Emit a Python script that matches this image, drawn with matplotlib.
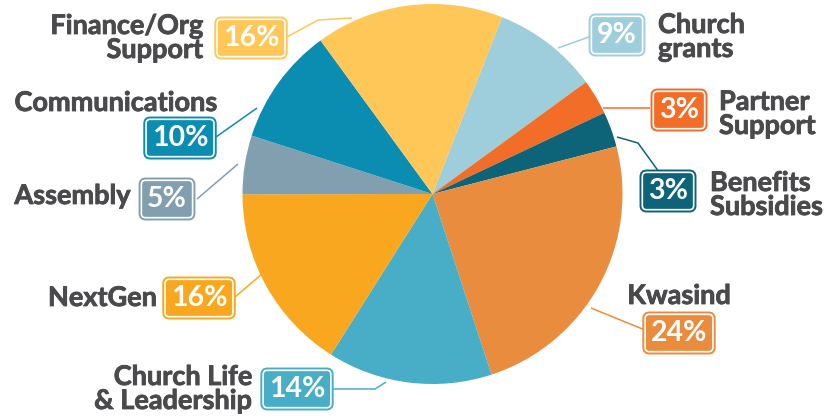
import numpy as np
import matplotlib
matplotlib.use("Agg")
import matplotlib.pyplot as plt
import matplotlib.patheffects as pe

plt.rcParams['font.family'] = ['Lato', 'DejaVu Sans']

# data
labels = ['Church\ngrants', 'Partner\nSupport', 'Benefits\nSubsidies', 'Kwasind',
          'Church Life\n& Leadership', 'NextGen', 'Assembly', 'Communications',
          'Finance/Org\nSupport']
shares = [9, 3, 3, 24, 14, 16, 5, 10, 16]
colors = ['#9ECDDB', '#F26D28', '#0D6479', '#EA8C3E', '#48ADC6',
          '#F9A71E', '#829FB0', '#0A8DB1', '#FEC758']

# layout (pixel coords, y measured from top)
W, H = 837, 417
center = (432.5, 194)
radius = 190
text_color = '#4A4A4C'

# (label x, label y, ha, box x, box y, leader path)
layout = [
    (658, 37, 'left', 617, 35, [(589, 37), (558, 48)]),
    (719, 114, 'left', 679, 110, [(650, 108), (603, 108)]),
    (710, 195, 'left', 668, 191, [(659, 172), (638, 143), (617, 137)]),
    (679, 296, 'center', 679, 333, [(645, 330), (591, 308)]),
    (252, 389, 'right', 297, 389, [(332, 389), (375, 389), (386, 382)]),
    (157, 298, 'right', 199, 298, [(235, 297), (262, 274)]),
    (131, 196, 'right', 167, 199, [(197, 199), (238, 164)]),
    (217, 103, 'right', 180, 138, [(216, 137), (257, 108)]),
    (203, 38, 'right', 251, 38, [(287, 37), (318, 20), (352, 18)]),
]


def Y(y):
    return H - y


fig = plt.figure(figsize=(W / 100, H / 100), dpi=100)
ax = fig.add_axes([0, 0, 1, 1])

ax.pie(shares, colors=colors, startangle=68.5, counterclock=False,
       center=(center[0], Y(center[1])), radius=radius,
       wedgeprops=dict(linewidth=0))

for lab, val, col, (lx, ly, ha, bx, by, path) in zip(labels, shares, colors, layout):
    xs = [p[0] for p in path]
    ys = [Y(p[1]) for p in path]
    ax.plot(xs, ys, color=col, lw=1.1, solid_capstyle='butt')

    ax.text(lx, Y(ly), lab, ha=ha, va='center', fontsize=19.5, fontweight='bold',
            color=text_color, linespacing=1.0,
            path_effects=[pe.withStroke(linewidth=0.6, foreground=text_color)])

    t = ax.text(bx, Y(by), f'{val}%', ha='center', va='center', fontsize=20.5,
                fontweight='bold', color='white',
                bbox=dict(boxstyle='round,pad=0.2,rounding_size=0.15',
                          fc=col, ec='white', lw=1.2))
    t.get_bbox_patch().set_path_effects(
        [pe.withStroke(linewidth=4, foreground=col)])

ax.set_xlim(0, W)
ax.set_ylim(0, H)
ax.set_aspect('equal')
ax.axis('off')

fig.savefig('out.png', dpi=100, facecolor='white')
